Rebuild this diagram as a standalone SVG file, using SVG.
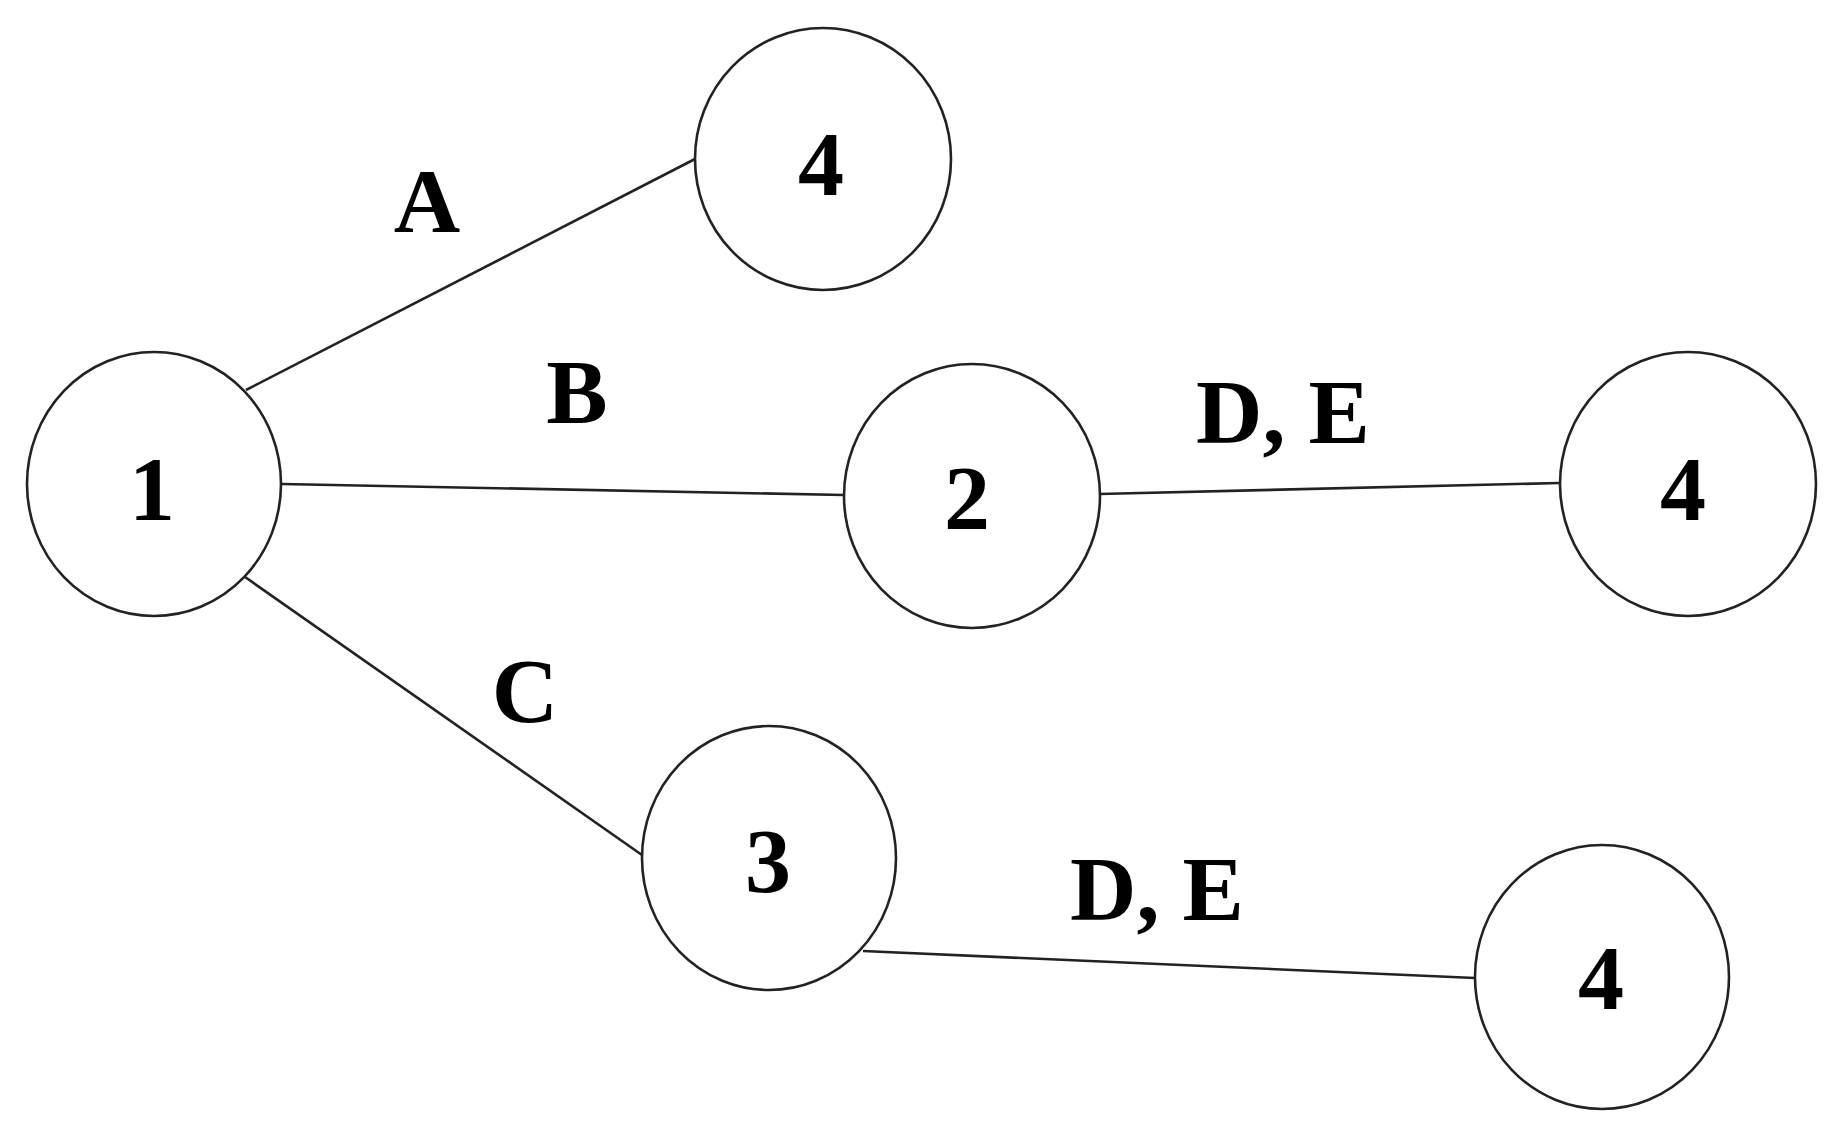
<svg xmlns="http://www.w3.org/2000/svg" width="1836" height="1125" viewBox="0 0 1836 1125">
<style>
.node{fill:#fff;stroke:#222;stroke-width:2.6}
.edge{stroke:#222;stroke-width:2.6;fill:none}
text{font-family:"Liberation Serif","Times New Roman",serif;font-weight:bold;font-size:92px;fill:#000;text-anchor:middle}
</style>
<rect width="1836" height="1125" fill="#fff"/>
<g id="connectors">
<line class="edge" x1="246" y1="390" x2="695" y2="159"/>
<line class="edge" x1="282" y1="484" x2="844" y2="495"/>
<line class="edge" x1="245" y1="577" x2="642" y2="855"/>
<line class="edge" x1="1099" y1="494" x2="1559" y2="483"/>
<line class="edge" x1="863" y1="951" x2="1475" y2="978"/>
<text x="427" y="232">A</text>
<text x="577" y="423">B</text>
<text x="525" y="722">C</text>
<text x="1283" y="443">D, E</text>
<text x="1157" y="920">D, E</text>
</g>
<g id="node1"><ellipse class="node" cx="154" cy="484" rx="127" ry="132"/><text x="152" y="520">1</text></g>
<g id="node4a"><ellipse class="node" cx="823" cy="159" rx="128" ry="131"/><text x="821" y="195">4</text></g>
<g id="node2"><ellipse class="node" cx="972" cy="496" rx="128" ry="132"/><text x="967" y="529">2</text></g>
<g id="node4b"><ellipse class="node" cx="1688" cy="484" rx="128" ry="132"/><text x="1683" y="520">4</text></g>
<g id="node3"><ellipse class="node" cx="769" cy="858" rx="127" ry="132"/><text x="768" y="892">3</text></g>
<g id="node4c"><ellipse class="node" cx="1602" cy="977" rx="127" ry="132"/><text x="1601" y="1009">4</text></g>
</svg>
